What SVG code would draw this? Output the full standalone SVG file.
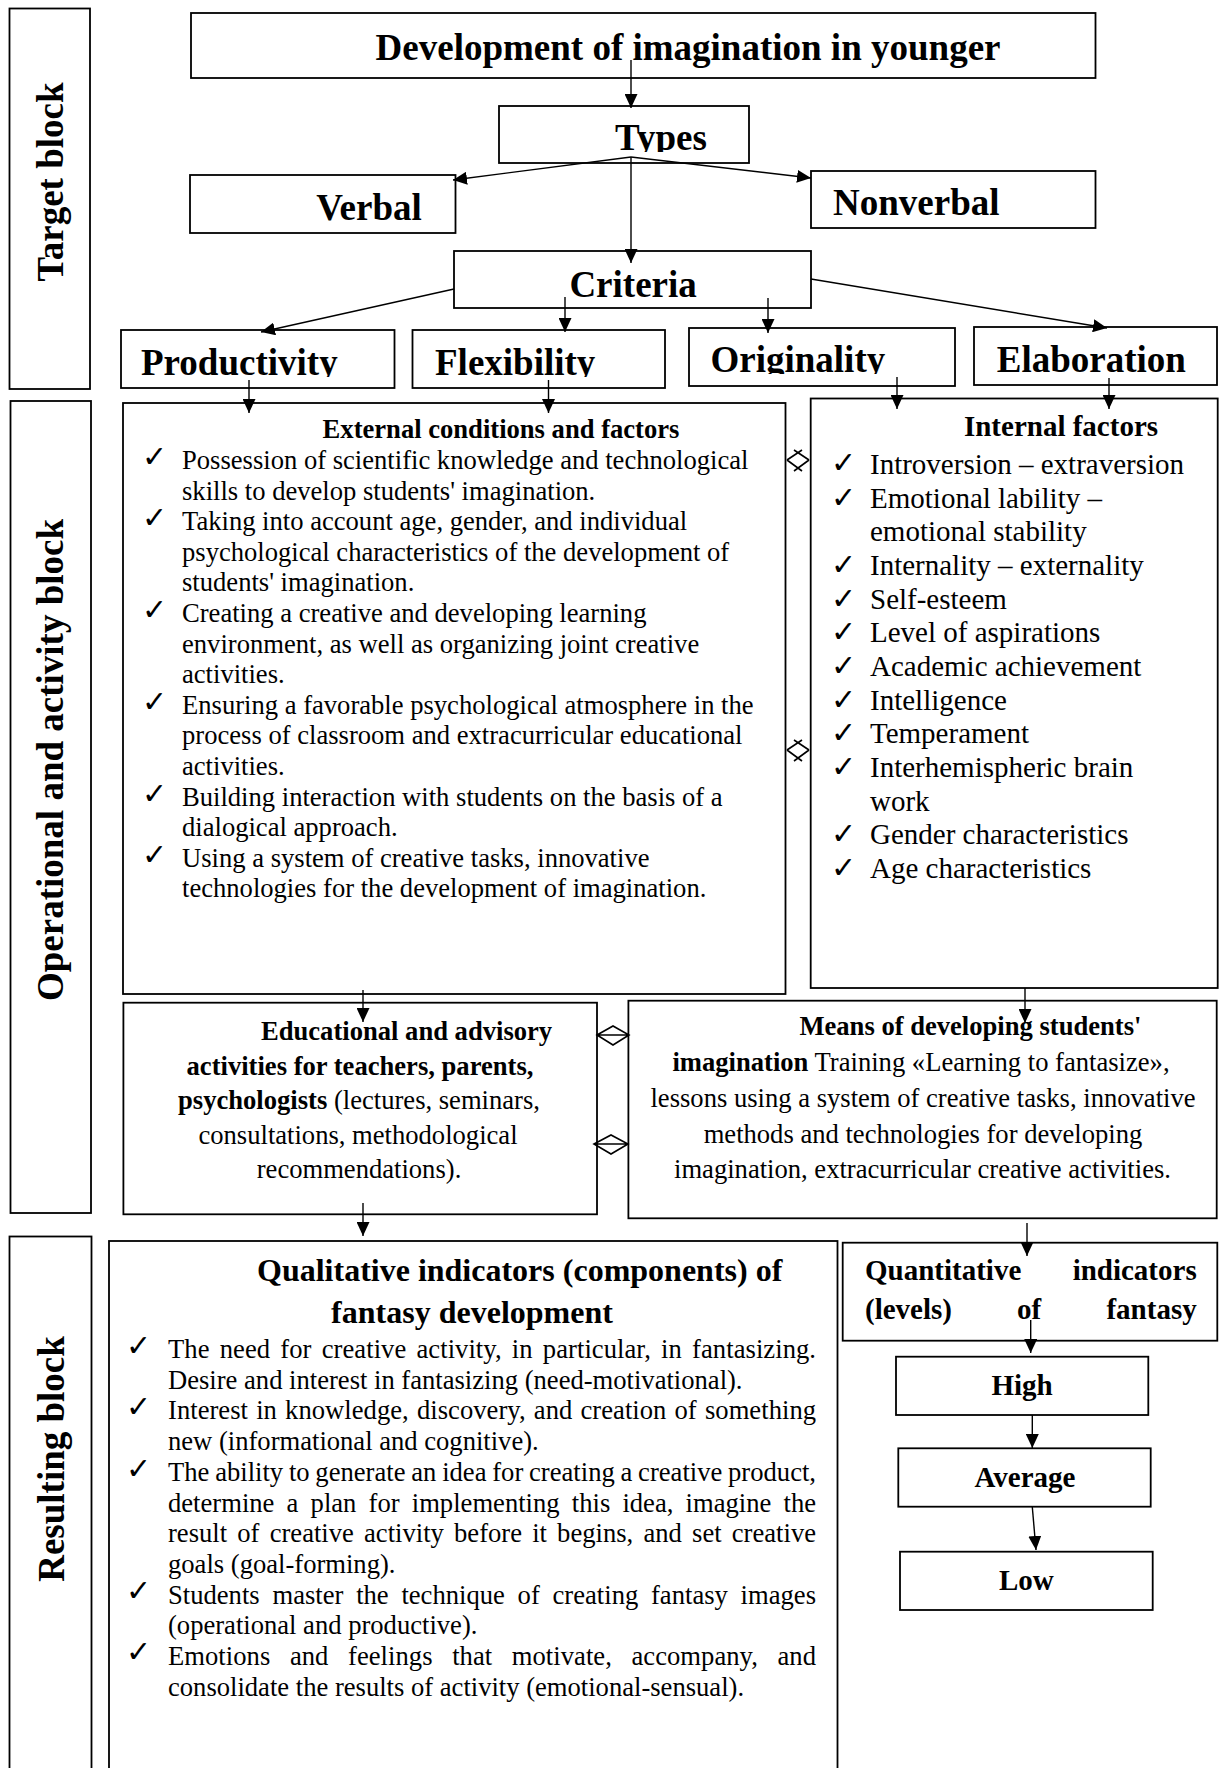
<svg xmlns="http://www.w3.org/2000/svg" width="1219" height="1768" viewBox="0 0 1219 1768">
<style>
.box{fill:none;stroke:#000;stroke-width:1.8}
.con{fill:none;stroke:#000;stroke-width:1.4}
.sym{fill:none;stroke:#000;stroke-width:1.6}
text{font-family:"Liberation Serif","Times New Roman",serif;fill:#000}
.h{font-size:37px;font-weight:bold}
.lbl{font-size:37px;font-weight:bold;text-anchor:middle}
.t{font-size:26.6px}
.tb{font-size:26.6px;font-weight:bold}
.i{font-size:29px}
.ib{font-size:29px;font-weight:bold}
.qt{font-size:32px;font-weight:bold}
.ck{font-family:"DejaVu Sans",sans-serif;font-size:30px}
.c{text-anchor:middle}
.e{text-anchor:end}
.bo{font-weight:bold}
</style>
<defs>
<marker id="ah" markerUnits="userSpaceOnUse" markerWidth="14" markerHeight="13" refX="14" refY="6.5" orient="auto"><path d="M0,0 L14,6.5 L0,13 z" fill="#000"/></marker>
<clipPath id="clTypes"><rect x="499" y="106" width="250" height="46"/></clipPath>
<clipPath id="clProd"><rect x="121" y="330" width="274" height="47"/></clipPath>
<clipPath id="clFlex"><rect x="412" y="330" width="253" height="47"/></clipPath>
<clipPath id="clOrig"><rect x="689" y="328" width="266" height="46"/></clipPath>
</defs>
<rect width="1219" height="1768" fill="#fff"/>

<g id="label-target"><rect class="box" x="9.5" y="8.5" width="80.5" height="380.5"/><text class="lbl" transform="translate(63,182) rotate(-90)">Target block</text></g>
<g id="label-operational"><rect class="box" x="10.5" y="401" width="80.5" height="812"/><text class="lbl" transform="translate(63,760) rotate(-90)">Operational and activity block</text></g>
<g id="label-resulting"><rect class="box" x="9.5" y="1236.5" width="82" height="540"/><text class="lbl" transform="translate(64,1459) rotate(-90)">Resulting block</text></g>

<g id="title"><rect class="box" x="191" y="13" width="904.5" height="65"/><text class="h" x="375.6" y="60">Development of imagination in younger</text></g>
<g id="types"><rect class="box" x="499" y="106" width="250" height="57"/><text class="h" x="615" y="150" clip-path="url(#clTypes)">Types</text></g>
<g id="verbal"><rect class="box" x="190" y="175" width="265.5" height="58"/><text class="h" x="316.3" y="220">Verbal</text></g>
<g id="nonverbal"><rect class="box" x="811" y="171" width="284.5" height="57"/><text class="h" x="833" y="215">Nonverbal</text></g>
<g id="criteria"><rect class="box" x="454" y="251" width="357" height="57"/><text class="h" x="569.4" y="296.5">Criteria</text></g>
<g id="productivity"><rect class="box" x="121" y="330" width="273.5" height="58"/><text class="h" x="141" y="375" clip-path="url(#clProd)">Productivity</text></g>
<g id="flexibility"><rect class="box" x="412.5" y="330" width="252.5" height="58"/><text class="h" x="435" y="375" clip-path="url(#clFlex)">Flexibility</text></g>
<g id="originality"><rect class="box" x="689" y="328" width="266" height="58"/><text class="h" x="710.5" y="372" clip-path="url(#clOrig)">Originality</text></g>
<g id="elaboration"><rect class="box" x="974" y="327" width="243" height="58"/><text class="h" x="996.8" y="372">Elaboration</text></g>

<g id="external">
<rect class="box" x="123" y="403" width="662.5" height="591"/>
<text class="tb c" x="501" y="438">External conditions and factors</text>
<text class="ck" x="142" y="467">✓</text>
<text class="ck" x="142" y="528">✓</text>
<text class="ck" x="142" y="620">✓</text>
<text class="ck" x="142" y="712">✓</text>
<text class="ck" x="142" y="804">✓</text>
<text class="ck" x="142" y="865">✓</text>
<text class="t" x="182" y="469">Possession of scientific knowledge and technological</text>
<text class="t" x="182" y="499.6">skills to develop students' imagination.</text>
<text class="t" x="182" y="530.2">Taking into account age, gender, and individual</text>
<text class="t" x="182" y="560.8">psychological characteristics of the development of</text>
<text class="t" x="182" y="591.4">students' imagination.</text>
<text class="t" x="182" y="622">Creating a creative and developing learning</text>
<text class="t" x="182" y="652.6">environment, as well as organizing joint creative</text>
<text class="t" x="182" y="683.2">activities.</text>
<text class="t" x="182" y="713.8">Ensuring a favorable psychological atmosphere in the</text>
<text class="t" x="182" y="744.4">process of classroom and extracurricular educational</text>
<text class="t" x="182" y="775">activities.</text>
<text class="t" x="182" y="805.6">Building interaction with students on the basis of a</text>
<text class="t" x="182" y="836.2">dialogical approach.</text>
<text class="t" x="182" y="866.8">Using a system of creative tasks, innovative</text>
<text class="t" x="182" y="897.4">technologies for the development of imagination.</text>
</g>

<g id="internal">
<rect class="box" x="810.7" y="398.5" width="407" height="589.5"/>
<text class="ib c" x="1061" y="436">Internal factors</text>
<text class="ck" x="831" y="473">✓</text>
<text class="ck" x="831" y="507.7">✓</text>
<text class="ck" x="831" y="575">✓</text>
<text class="ck" x="831" y="608.7">✓</text>
<text class="ck" x="831" y="642.4">✓</text>
<text class="ck" x="831" y="676">✓</text>
<text class="ck" x="831" y="709.7">✓</text>
<text class="ck" x="831" y="743.4">✓</text>
<text class="ck" x="831" y="777">✓</text>
<text class="ck" x="831" y="844.4">✓</text>
<text class="ck" x="831" y="878">✓</text>
<text class="i" x="870" y="474">Introversion – extraversion</text>
<text class="i" x="870" y="507.7">Emotional lability –</text>
<text class="i" x="870" y="541.3">emotional stability</text>
<text class="i" x="870" y="575">Internality – externality</text>
<text class="i" x="870" y="608.7">Self-esteem</text>
<text class="i" x="870" y="642.4">Level of aspirations</text>
<text class="i" x="870" y="676">Academic achievement</text>
<text class="i" x="870" y="709.7">Intelligence</text>
<text class="i" x="870" y="743.4">Temperament</text>
<text class="i" x="870" y="777">Interhemispheric brain</text>
<text class="i" x="870" y="810.7">work</text>
<text class="i" x="870" y="844.4">Gender characteristics</text>
<text class="i" x="870" y="878">Age characteristics</text>
</g>

<g id="educational">
<rect class="box" x="123.4" y="1002.7" width="473.6" height="211.6"/>
<text class="tb" x="261" y="1040">Educational and advisory</text>
<text class="tb c" x="360" y="1074.5">activities for teachers, parents,</text>
<text class="t c" x="359" y="1109"><tspan class="bo">psychologists</tspan> (lectures, seminars,</text>
<text class="t c" x="358" y="1143.5">consultations, methodological</text>
<text class="t c" x="359" y="1178">recommendations).</text>
</g>

<g id="means">
<rect class="box" x="628.4" y="1000.7" width="588.3" height="217.6"/>
<text class="tb" x="799.4" y="1035">Means of developing students'</text>
<text class="t c" x="921" y="1071"><tspan class="bo">imagination</tspan> Training «Learning to fantasize»,</text>
<text class="t c" x="923" y="1107">lessons using a system of creative tasks, innovative</text>
<text class="t c" x="923" y="1143">methods and technologies for developing</text>
<text class="t c" x="922.5" y="1178">imagination, extracurricular creative activities.</text>
</g>

<g id="qualitative">
<rect class="box" x="109" y="1241" width="728.5" height="540"/>
<text class="qt" x="257" y="1281">Qualitative indicators (components) of</text>
<text class="qt c" x="472" y="1323">fantasy development</text>
<text class="ck" x="126" y="1356">✓</text>
<text class="ck" x="126" y="1417.4">✓</text>
<text class="ck" x="126" y="1478.8">✓</text>
<text class="ck" x="126" y="1601">✓</text>
<text class="ck" x="126" y="1662.4">✓</text>
<text class="t" x="168" y="1358" word-spacing="3.5" textLength="648" lengthAdjust="spacing">The need for creative activity, in particular, in fantasizing.</text>
<text class="t" x="168" y="1388.7">Desire and interest in fantasizing (need-motivational).</text>
<text class="t" x="168" y="1419.4" word-spacing="1.5" textLength="648" lengthAdjust="spacing">Interest in knowledge, discovery, and creation of something</text>
<text class="t" x="168" y="1450.1">new (informational and cognitive).</text>
<text class="t" x="168" y="1480.8" word-spacing="-0.9" textLength="648" lengthAdjust="spacing">The ability to generate an idea for creating a creative product,</text>
<text class="t" x="168" y="1511.5" word-spacing="5.5" textLength="648" lengthAdjust="spacing">determine a plan for implementing this idea, imagine the</text>
<text class="t" x="168" y="1542.2" word-spacing="3.5" textLength="648" lengthAdjust="spacing">result of creative activity before it begins, and set creative</text>
<text class="t" x="168" y="1572.9">goals (goal-forming).</text>
<text class="t" x="168" y="1603.6" word-spacing="6.1" textLength="648" lengthAdjust="spacing">Students master the technique of creating fantasy images</text>
<text class="t" x="168" y="1634.3">(operational and productive).</text>
<text class="t" x="168" y="1665" word-spacing="12.9" textLength="648" lengthAdjust="spacing">Emotions and feelings that motivate, accompany, and</text>
<text class="t" x="168" y="1695.7">consolidate the results of activity (emotional-sensual).</text>
</g>

<g id="quantitative">
<rect class="box" x="842.7" y="1242.7" width="374.6" height="98"/>
<text class="ib" x="865" y="1280">Quantitative</text>
<text class="ib e" x="1196.7" y="1280">indicators</text>
<text class="ib" x="865" y="1319.3">(levels)</text>
<text class="ib" x="1017" y="1319.3">of</text>
<text class="ib e" x="1196.7" y="1319.3">fantasy</text>
</g>
<g id="high"><rect class="box" x="896" y="1356.7" width="252.3" height="58.3"/><text class="ib c" x="1022" y="1395">High</text></g>
<g id="average"><rect class="box" x="898.3" y="1448.3" width="252.4" height="58.4"/><text class="ib c" x="1025" y="1486.7">Average</text></g>
<g id="low"><rect class="box" x="900" y="1551.7" width="252.7" height="58.3"/><text class="ib c" x="1026.3" y="1590">Low</text></g>

<g id="connectors">
<path class="con" marker-end="url(#ah)" d="M631,60 V108"/>
<path class="con" marker-end="url(#ah)" d="M631,157 L453,180"/>
<path class="con" marker-end="url(#ah)" d="M631,157 L811,178"/>
<path class="con" marker-end="url(#ah)" d="M631,157 V263"/>
<path class="con" marker-end="url(#ah)" d="M454,289 L261,332"/>
<path class="con" marker-end="url(#ah)" d="M565,297 V332"/>
<path class="con" marker-end="url(#ah)" d="M768,298 V333"/>
<path class="con" marker-end="url(#ah)" d="M811,279 L1107,328"/>
<path class="con" marker-end="url(#ah)" d="M249,380 V413"/>
<path class="con" marker-end="url(#ah)" d="M548.5,380 V413"/>
<path class="con" marker-end="url(#ah)" d="M897,377 V409"/>
<path class="con" marker-end="url(#ah)" d="M1109,378 V409"/>
<path class="con" marker-end="url(#ah)" d="M363,990 V1022"/>
<path class="con" marker-end="url(#ah)" d="M1025,988 V1023"/>
<path class="con" marker-end="url(#ah)" d="M363,1203 V1236"/>
<path class="con" marker-end="url(#ah)" d="M1027,1223 V1256"/>
<path class="con" marker-end="url(#ah)" d="M1030.7,1320 V1353"/>
<path class="con" marker-end="url(#ah)" d="M1032.3,1415 V1448"/>
<path class="con" marker-end="url(#ah)" d="M1032.3,1507 L1036,1550"/>
<path class="sym" d="M787,460 L802,450 M787,460 L802,471 M809,460 L794,450 M809,460 L794,471"/>
<path class="sym" d="M787,750 L802,740 M787,750 L802,761 M809,750 L794,740 M809,750 L794,761"/>
<path class="sym" d="M597,1035 L613,1026 L629,1035 L613,1045 Z M597,1035 H629"/>
<path class="sym" d="M594,1144 L611,1135 L628,1144 L611,1154 Z M594,1144 H628"/>
</g>
</svg>
